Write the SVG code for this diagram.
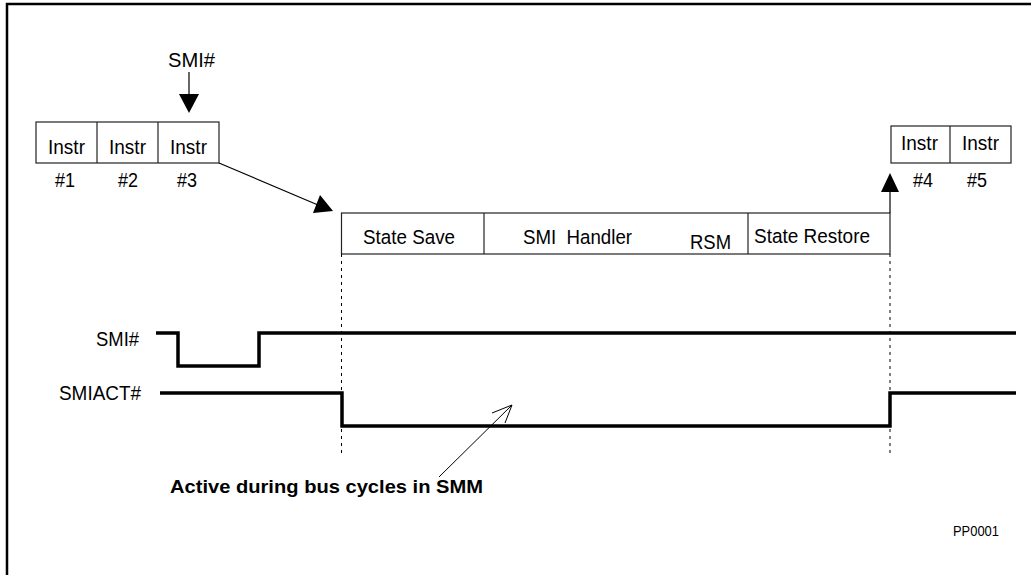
<svg xmlns="http://www.w3.org/2000/svg" width="1031" height="575" viewBox="0 0 1031 575">
<defs>
<style>
.t{font-family:"Liberation Sans",Arial,sans-serif;font-size:20.5px;fill:#000;text-anchor:middle}
.l{font-family:"Liberation Sans",Arial,sans-serif;font-size:20.5px;fill:#000;text-anchor:end}
.b{font-family:"Liberation Sans",Arial,sans-serif;font-size:19px;font-weight:bold;fill:#000}
.box{fill:#fff;stroke:#222;stroke-width:1.2}
.div{stroke:#222;stroke-width:1.2}
.wave{fill:none;stroke:#000;stroke-width:3.5}
.dot{stroke:#000;stroke-width:1;stroke-dasharray:3 4}
.thin{fill:none;stroke:#000;stroke-width:1}
</style>
</defs>
<rect width="1031" height="575" fill="#fff"/>
<g id="frame">
<path d="M7 575 V4 H1031" fill="none" stroke="#000" stroke-width="2.5"/>
</g>
<g id="smi-top">
<text class="t" x="191.5" y="67" textLength="47" lengthAdjust="spacingAndGlyphs">SMI#</text>
</g>
<g id="instr-left">
<rect class="box" x="36" y="122" width="183" height="41"/>
<line class="div" x1="97" y1="122" x2="97" y2="163"/>
<line class="div" x1="158" y1="122" x2="158" y2="163"/>
<text class="t" x="66.5" y="154" textLength="37" lengthAdjust="spacingAndGlyphs">Instr</text>
<text class="t" x="127.5" y="154" textLength="37" lengthAdjust="spacingAndGlyphs">Instr</text>
<text class="t" x="188.5" y="154" textLength="37" lengthAdjust="spacingAndGlyphs">Instr</text>
<text class="t" x="65" y="187" textLength="20" lengthAdjust="spacingAndGlyphs">#1</text>
<text class="t" x="128" y="187" textLength="20" lengthAdjust="spacingAndGlyphs">#2</text>
<text class="t" x="187" y="187" textLength="20" lengthAdjust="spacingAndGlyphs">#3</text>
</g>
<g id="instr-right">
<rect class="box" x="891" y="126" width="120" height="37"/>
<line class="div" x1="950" y1="126" x2="950" y2="163"/>
<text class="t" x="919.5" y="150" textLength="37" lengthAdjust="spacingAndGlyphs">Instr</text>
<text class="t" x="980.5" y="150" textLength="37" lengthAdjust="spacingAndGlyphs">Instr</text>
<text class="t" x="923" y="187" textLength="20" lengthAdjust="spacingAndGlyphs">#4</text>
<text class="t" x="977" y="187" textLength="20" lengthAdjust="spacingAndGlyphs">#5</text>
</g>
<g id="smm-box">
<rect class="box" x="341.5" y="213" width="548.5" height="41"/>
<line class="div" x1="484" y1="213" x2="484" y2="254"/>
<line class="div" x1="748" y1="213" x2="748" y2="254"/>
<text class="t" x="409" y="244" textLength="92" lengthAdjust="spacingAndGlyphs">State Save</text>
<text class="t" x="577.5" y="244" xml:space="preserve" textLength="109" lengthAdjust="spacingAndGlyphs">SMI  Handler</text>
<text class="t" x="710.5" y="249" textLength="41" lengthAdjust="spacingAndGlyphs">RSM</text>
<text class="t" x="812" y="243" textLength="116" lengthAdjust="spacingAndGlyphs">State Restore</text>
</g>
<g id="signal-labels">
<text class="l" x="139" y="346" textLength="43" lengthAdjust="spacingAndGlyphs">SMI#</text>
<text class="l" x="141" y="400" textLength="82" lengthAdjust="spacingAndGlyphs">SMIACT#</text>
</g>
<g id="connectors">
<line x1="189" y1="72" x2="189" y2="95" stroke="#000" stroke-width="1.2"/>
<polygon points="179,94 199,94 189,113" fill="#000"/>
<line x1="219" y1="163" x2="318" y2="205" stroke="#000" stroke-width="1.2"/>
<polygon points="333,211 313,213 320,195" fill="#000"/>
<line x1="890" y1="213" x2="890" y2="190" stroke="#000" stroke-width="1.2"/>
<polygon points="881,192 899,192 890,173" fill="#000"/>
<line class="dot" x1="341.5" y1="254" x2="341.5" y2="456"/>
<line class="dot" x1="890" y1="254" x2="890" y2="456"/>
<polyline class="wave" points="156,333 178,333 178,366 259,366 259,333 1016,333"/>
<polyline class="wave" points="160,393 342,393 342,426 890,426 890,393 1016,393"/>
<line class="thin" x1="439" y1="477" x2="512" y2="405"/>
<polyline class="thin" points="492,413 512,405 505,423"/>
</g>
<g id="annotation">
<text class="b" x="170" y="493" textLength="313" lengthAdjust="spacingAndGlyphs">Active during bus cycles in SMM</text>
<text x="953" y="536" font-family="Liberation Sans,Arial,sans-serif" font-size="14" fill="#000" textLength="46" lengthAdjust="spacingAndGlyphs">PP0001</text>
</g>
</svg>
